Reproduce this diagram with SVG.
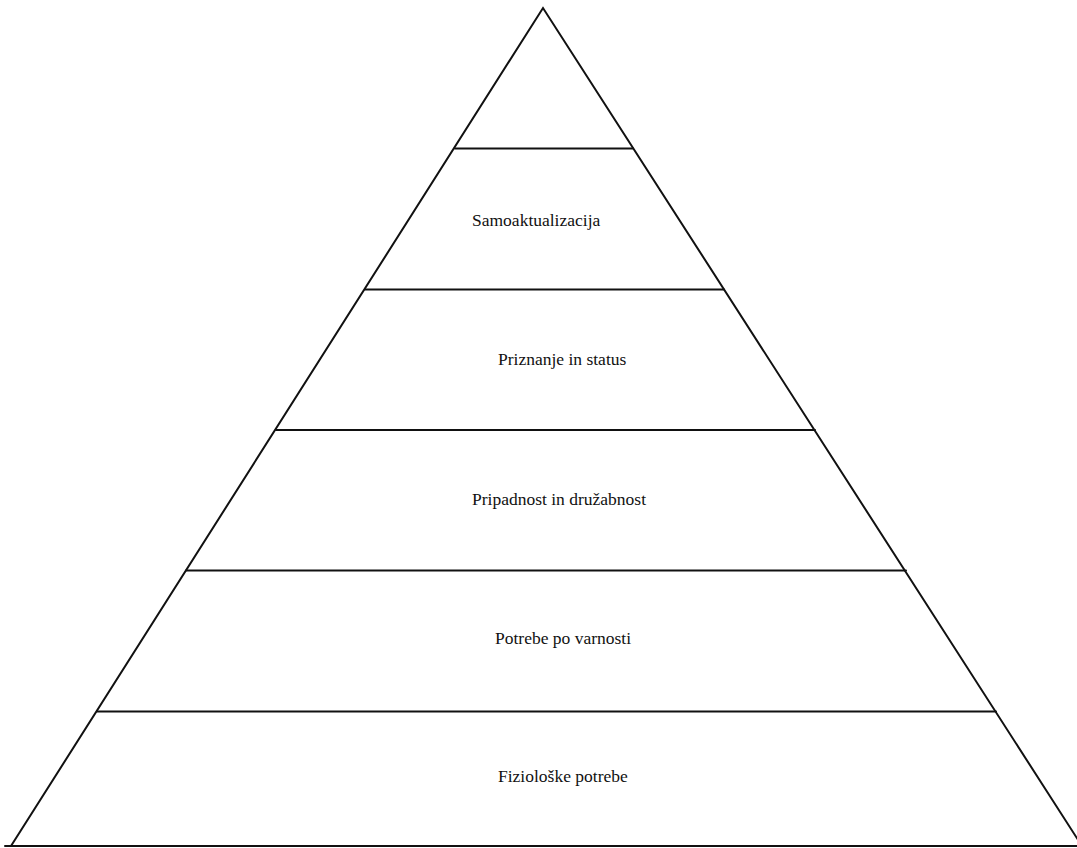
<svg xmlns="http://www.w3.org/2000/svg" width="1077" height="848" viewBox="0 0 1077 848">
<style>
.edge{stroke:#111;stroke-width:2;fill:none;stroke-linecap:round}
.lbl{font-family:"Liberation Serif","Times New Roman",serif;font-size:17.5px;fill:#111}
</style>
<rect width="1077" height="848" fill="#fff"/>
<g id="connectors">
<path class="edge" d="M11,846 L543,8 L1082,846"/>
<line class="edge" x1="5" y1="846" x2="1077" y2="846"/>
<line class="edge" x1="455" y1="148.5" x2="633" y2="148.5"/>
<line class="edge" x1="365" y1="289.5" x2="724" y2="289.5"/>
<line class="edge" x1="276" y1="430" x2="815" y2="430"/>
<line class="edge" x1="186" y1="570.5" x2="906" y2="570.5"/>
<line class="edge" x1="97" y1="711.5" x2="996" y2="711.5"/>
</g>
<g id="n1"><text class="lbl" x="472" y="226">Samoaktualizacija</text></g>
<g id="n2"><text class="lbl" x="498" y="365">Priznanje in status</text></g>
<g id="n3"><text class="lbl" x="472" y="505">Pripadnost in družabnost</text></g>
<g id="n4"><text class="lbl" x="495" y="644">Potrebe po varnosti</text></g>
<g id="n5"><text class="lbl" x="498" y="782">Fiziološke potrebe</text></g>
</svg>
